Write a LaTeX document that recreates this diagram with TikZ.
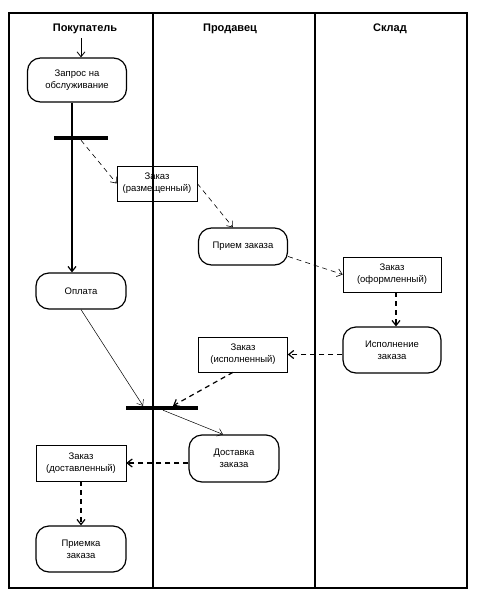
\documentclass[tikz,border=0pt]{standalone}
\usepackage{fontspec}
\setmainfont{Liberation Sans}
\usetikzlibrary{arrows.meta, positioning, calc}

\begin{document}
\begin{tikzpicture}[x=1pt,y=-1pt,
  act/.style={draw,line width=1.2pt,rounded corners=13pt,align=center,inner sep=0pt,font=\fontsize{9.5}{12}\selectfont},
  obj/.style={draw,line width=0.6pt,align=center,inner sep=0pt,font=\fontsize{9.5}{12}\selectfont},
  bar/.style={fill=black,inner sep=0pt,minimum height=4pt},
  lanehead/.style={font=\bfseries\fontsize{11}{13}\selectfont},
  flow/.style={-{Straight Barb[length=5pt,width=8pt]}},
  objflow/.style={flow,dash pattern=on 5pt off 4pt}]
\useasboundingbox (0,0) rectangle (477,598);
% swimlanes
\draw[line width=1.5pt] (9,13) rectangle (467,588);
\draw[line width=1.5pt] (153,13) -- (153,588);
\draw[line width=1.5pt] (315,13) -- (315,588);
\node[lanehead] (buyer) at (85,29) {Покупатель};
\node[lanehead] (seller) at (230,29) {Продавец};
\node[lanehead] (store) at (390,29) {Склад};
% activities
\node[act,minimum width=99pt,minimum height=44pt] (req) at (77,80) {Запрос на\\обслуживание};
\node[act,minimum width=90pt,minimum height=36pt] (pay) at (81,291) {Оплата};
\node[act,minimum width=89pt,minimum height=37pt] (accept) at (243,246.5) {Прием заказа};
\node[act,minimum width=98pt,minimum height=46pt] (done) at (392,350) {Исполнение\\заказа};
\node[act,minimum width=90pt,minimum height=47pt] (deliver) at (234,458.5) {Доставка\\заказа};
\node[act,minimum width=90pt,minimum height=46pt] (recv) at (81,549) {Приемка\\заказа};
% objects
\node[obj,minimum width=80pt,minimum height=35pt] (placed) at (157,183.5) {Заказ\\(размещенный)};
\node[obj,minimum width=98pt,minimum height=35pt] (formed) at (392,274.5) {Заказ\\(оформленный)};
\node[obj,minimum width=89pt,minimum height=35pt] (filled) at (243,354.5) {Заказ\\(исполненный)};
\node[obj,minimum width=90pt,minimum height=36pt] (got) at (81,463) {Заказ\\(доставленный)};
% fork / join bars
\node[bar,minimum width=54pt] (fork) at (81,138) {};
\node[bar,minimum width=72pt] (join) at (162,408) {};
\coordinate (init) at (81,38);
\coordinate (trunk) at (72,0);
% control flow
\draw[flow,line width=0.8pt] (init) -- (req.north -| init);
\draw[flow,line width=1.2pt] (req.south -| trunk) -- (pay.north -| trunk);
\draw[flow,line width=0.5pt] (pay.south) -- ([xshift=-19pt]join.north);
\draw[flow,line width=0.5pt] ([xshift=1pt]join.south) -- ([xshift=-11pt]deliver.north);
% object flow
\draw[objflow,line width=0.6pt] (fork.south) -- (placed.west);
\draw[objflow,line width=0.6pt] (placed.east) -- ([xshift=-10pt]accept.north);
\draw[objflow,line width=0.6pt] ([yshift=-10pt]accept.east) -- (formed.west);
\draw[objflow,line width=1.2pt] ([xshift=4pt]formed.south) -- ([xshift=4pt]done.north);
\draw[objflow,line width=1.2pt] (done.west |- filled) -- (filled.east);
\draw[objflow,line width=1.2pt] ([xshift=-10pt]filled.south) -- ([xshift=11pt]join.north);
\draw[objflow,line width=1.2pt] (deliver.west |- got) -- (got.east);
\draw[objflow,line width=1.2pt] (got.south) -- (recv.north);
\end{tikzpicture}
\end{document}
